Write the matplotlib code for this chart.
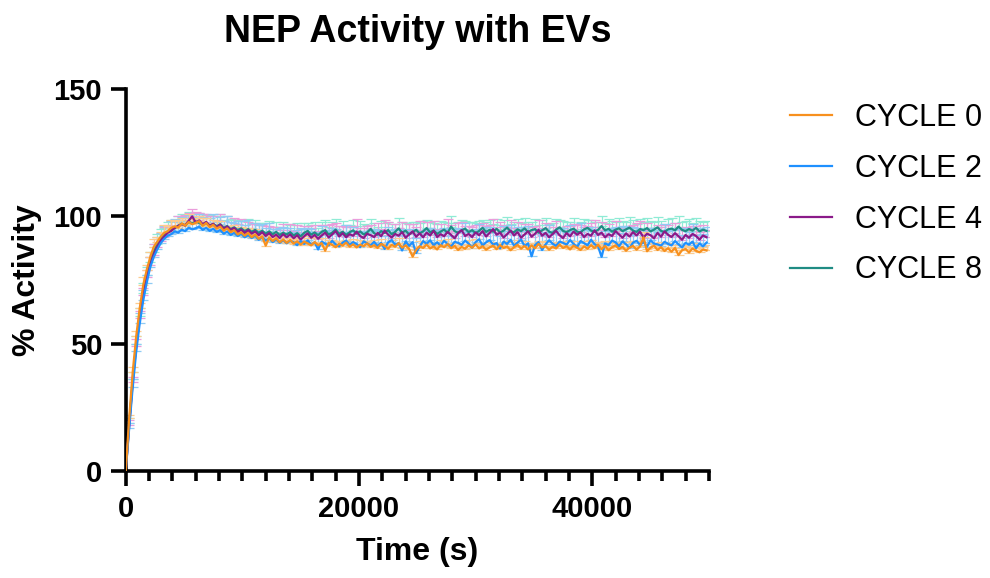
import numpy as np
import matplotlib
matplotlib.use("Agg")
from matplotlib import pyplot as plt
from matplotlib.ticker import MultipleLocator

plt.rcParams['font.family'] = ['Liberation Sans', 'DejaVu Sans']

# readings every 300 s, % activity (mean) and SD per cycle
step = 300

cycle0 = [0, 21, 39, 53, 64, 73, 79, 84, 88, 90,
          92, 93.5, 94.2, 95.5, 96.1, 95.6, 97.2, 96.4, 97.8, 96.9,
          97.5, 98.1, 96.3, 97.4, 95.8, 96.7, 95.2, 96.0, 94.4, 95.3,
          93.8, 94.6, 92.9, 93.7, 92.4, 93.5, 91.8, 92.9, 91.2, 92.1,
          88.5, 91.7, 90.3, 91.4, 89.8, 90.9, 89.6, 90.7, 89.3, 90.2,
          88.9, 90.1, 89.4, 88.6, 89.9, 88.7, 89.5, 86.5, 89.6, 88.8,
          87.9, 89.3, 88.5, 89.7, 88.1, 89.0, 87.8, 88.9, 88.3, 89.4,
          88.0, 88.7, 87.6, 89.2, 88.4, 87.3, 88.8, 88.1, 89.5, 87.7,
          88.6, 87.2, 84.2, 86.9, 88.3, 87.6, 88.9, 87.4, 88.2, 87.0,
          88.7, 87.9, 89.1, 87.5, 88.4, 86.8, 88.0, 87.3, 88.6, 87.7,
          89.0, 87.4, 88.3, 86.9, 87.8, 88.5, 87.1, 88.7, 87.6, 88.2,
          86.7, 87.9, 88.8, 87.3, 88.4, 87.0, 88.6, 87.5, 89.2, 87.8,
          88.3, 86.9, 88.1, 87.4, 88.9, 87.6, 88.3, 87.0, 88.5, 87.7,
          86.8, 88.2, 87.3, 88.7, 87.5, 88.9, 87.1, 88.4, 86.7, 87.9,
          88.6, 87.2, 88.0, 86.5, 87.8, 88.4, 86.9, 88.2, 91.8, 86.3,
          87.7, 88.5, 86.8, 87.9, 86.4, 87.5, 86.1, 87.6, 84.8, 86.7,
          87.2, 85.8, 87.4, 86.5, 85.9, 87.0, 86.6]

cycle2 = [0, 17, 33, 47, 58, 67, 74, 80, 84, 87,
          89.5, 91.2, 92.4, 93.0, 94.1, 93.6, 94.8, 94.2, 95.6, 94.9,
          95.3, 96.0, 94.7, 95.5, 94.3, 95.1, 93.9, 94.6, 93.2, 94.0,
          92.7, 93.5, 92.3, 93.1, 91.8, 92.6, 91.5, 92.4, 90.8, 91.9,
          90.5, 91.3, 89.9, 90.9, 89.6, 90.7, 89.4, 90.5, 89.8, 88.7,
          90.3, 89.2, 90.6, 88.9, 89.8, 87.0, 90.1, 89.3, 88.6, 90.4,
          89.0, 88.2, 89.7, 90.5, 88.8, 89.9, 89.1, 87.9, 90.2, 89.4,
          88.6, 90.0, 88.3, 89.6, 87.2, 89.8, 90.7, 88.9, 89.5, 86.6,
          90.2, 88.4, 89.9, 85.6, 88.1, 90.3, 89.2, 90.6, 88.7, 89.8,
          88.5, 90.4, 89.1, 88.2, 90.0, 89.6, 88.8, 90.5, 89.3, 87.7,
          89.9, 91.0, 88.6, 89.8, 90.7, 88.9, 89.5, 87.4, 90.1, 89.2,
          90.8, 88.5, 89.7, 90.9, 88.3, 89.4, 84.3, 88.7, 89.9, 86.8,
          89.0, 90.6, 89.3, 88.4, 90.1, 89.6, 88.9, 90.7, 89.2, 87.9,
          90.3, 89.5, 88.6, 90.8, 89.1, 88.2, 84.1, 89.4, 88.7, 90.5,
          89.8, 88.3, 90.2, 89.0, 87.6, 89.7, 90.4, 88.8, 89.9, 88.1,
          90.6, 89.3, 89.0, 88.5, 90.0, 89.2, 88.6, 90.3, 89.0, 87.8,
          89.6, 88.9, 90.1, 87.5, 89.4, 88.2, 89.7]

cycle4 = [0, 18, 35, 49, 60, 69, 76, 81, 85, 88,
          90.5, 92.0, 93.6, 94.3, 95.5, 96.2, 97.0, 96.4, 98.3, 100.0,
          97.6, 98.4, 96.9, 97.8, 96.2, 97.1, 95.6, 96.8, 95.1, 96.0,
          94.7, 95.4, 93.9, 94.8, 93.5, 94.6, 93.2, 94.1, 92.6, 93.8,
          92.3, 93.4, 91.9, 92.8, 91.5, 93.0, 91.8, 92.9, 91.4, 92.6,
          90.9, 92.2, 93.3, 91.6, 92.7, 91.2, 92.5, 93.6, 91.7, 92.9,
          94.2, 92.1, 93.4, 91.8, 93.0, 92.4, 94.0, 92.3, 91.5, 93.2,
          92.6, 91.9, 93.5, 92.2, 94.4, 92.8, 91.7, 93.1, 92.4, 93.8,
          91.6, 92.9, 94.1, 92.0, 93.3, 91.8, 93.6, 92.5, 94.3, 91.9,
          93.0, 92.2, 93.9, 92.7, 91.4, 93.4, 94.6, 92.3, 93.1, 91.9,
          93.7, 92.6, 94.2, 92.1, 93.5, 95.0, 92.8, 93.6, 91.7, 93.0,
          94.4, 92.5, 93.8, 91.6, 92.9, 94.1, 92.0, 93.2, 94.7, 92.4,
          93.5, 91.8, 93.0, 94.3, 92.6, 91.5, 93.4, 92.2, 94.0, 92.8,
          93.7, 91.9, 93.1, 92.4, 94.5, 92.7, 93.6, 91.8, 93.0, 92.3,
          94.2, 92.9, 91.6, 93.3, 92.1, 93.8, 92.5, 94.0, 91.7, 93.2,
          92.6, 91.4, 93.5, 92.0, 94.1, 92.8, 91.9, 93.4, 92.2, 90.8,
          92.7, 91.6, 93.1, 92.3, 90.9, 92.5, 91.8]

cycle8 = [0, 19, 36, 50, 61, 70, 77, 82, 86, 89,
          91.0, 92.5, 93.8, 94.6, 95.4, 96.3, 97.1, 96.5, 97.9, 97.2,
          98.0, 97.4, 96.8, 97.6, 96.4, 97.0, 96.1, 96.9, 95.5, 96.2,
          95.0, 95.7, 94.6, 95.3, 94.2, 95.0, 93.9, 94.7, 93.5, 94.4,
          93.2, 94.1, 93.0, 93.9, 92.7, 93.6, 92.9, 93.8, 92.5, 93.4,
          92.2, 93.5, 94.3, 92.8, 93.7, 92.6, 93.9, 94.6, 92.9, 93.6,
          94.8, 93.1, 94.0, 92.7, 93.8, 94.5, 93.2, 94.1, 92.9, 93.7,
          95.1, 93.4, 92.8, 94.2, 93.5, 94.6, 93.0, 93.9, 95.3, 93.6,
          94.4, 92.9, 93.8, 94.7, 93.3, 94.1, 95.4, 93.7, 94.5, 93.1,
          94.0, 94.8, 93.5, 96.0, 94.2, 93.6, 94.5, 95.2, 93.8, 94.6,
          93.4, 94.3, 95.5, 93.9, 94.7, 94.0, 95.1, 93.7, 94.4, 95.6,
          94.1, 93.8, 94.9, 94.2, 95.3, 93.9, 94.6, 95.0, 93.6, 94.5,
          95.4, 94.0, 93.5, 94.8, 95.7, 94.3, 93.8, 94.6, 95.2, 94.0,
          93.7, 94.9, 95.5, 94.4, 93.9, 94.7, 96.2, 94.5, 95.1, 94.0,
          94.8, 95.3, 94.2, 94.9, 95.6, 94.4, 93.9, 95.0, 94.6, 95.4,
          94.1, 94.8, 95.7, 94.3, 93.8, 94.9, 95.2, 94.5, 96.0, 94.7,
          94.2, 95.0, 94.4, 95.5, 94.1, 94.8, 94.3]

sd0 = [0, 1, 2, 2, 2, 3, 2, 2, 3, 2,
       2, 3, 2, 3, 2, 3, 2, 2, 3, 2,
       2, 2, 3, 2, 1, 2, 3, 2, 2, 1,
       2, 2, 1, 2, 3, 2, 1, 2, 2, 1,
       2, 1, 2, 2, 1, 2, 2, 1, 2, 2,
       1, 2, 2, 1, 2, 1, 2, 2, 1, 2,
       2, 1, 2, 1, 2, 2, 1, 2, 2, 1,
       2, 2, 1, 2, 1, 2, 2, 1, 2, 2,
       1, 2, 2, 1, 2, 2, 1, 2, 1, 2,
       2, 1, 2, 2, 1, 2, 1, 2, 2, 1,
       2, 2, 1, 2, 2, 1, 2, 1, 2, 2,
       1, 2, 2, 1, 2, 2, 1, 2, 1, 2,
       2, 1, 2, 2, 1, 2, 2, 1, 2, 1,
       2, 2, 1, 2, 2, 1, 2, 2, 1, 2,
       1, 2, 2, 1, 2, 2, 1, 2, 2, 1,
       2, 1, 2, 2, 1, 2, 2, 1, 2, 2,
       1, 2, 2, 1, 2, 1, 2]

sd2 = [0, 2, 3, 3, 4, 4, 3, 4, 4, 5,
       4, 5, 4, 5, 5, 4, 5, 4, 5, 5,
       4, 5, 5, 4, 5, 6, 4, 5, 5, 6,
       5, 4, 6, 5, 5, 6, 4, 5, 6, 5,
       5, 6, 5, 4, 6, 5, 6, 5, 4, 6,
       5, 6, 5, 6, 4, 5, 6, 5, 6, 5,
       6, 5, 4, 6, 5, 6, 5, 6, 4, 5,
       6, 5, 6, 5, 5, 6, 4, 6, 5, 6,
       5, 6, 5, 6, 5, 4, 6, 5, 6, 5,
       6, 5, 6, 4, 5, 6, 5, 7, 5, 6,
       5, 6, 5, 6, 5, 6, 4, 5, 6, 5,
       6, 5, 6, 5, 6, 7, 5, 6, 5, 6,
       5, 6, 4, 6, 5, 6, 5, 6, 5, 6,
       7, 5, 6, 5, 6, 5, 6, 5, 6, 5,
       6, 5, 6, 7, 5, 6, 5, 6, 5, 6,
       5, 6, 5, 6, 7, 5, 6, 5, 6, 5,
       6, 5, 7, 5, 6, 5, 6]

sd4 = [0, 2, 2, 3, 3, 3, 3, 3, 4, 3,
       3, 4, 3, 4, 3, 4, 3, 4, 3, 3,
       4, 3, 4, 3, 4, 3, 3, 4, 3, 4,
       3, 4, 3, 4, 3, 3, 4, 3, 4, 3,
       4, 3, 4, 3, 3, 4, 3, 4, 3, 4,
       3, 4, 3, 4, 4, 3, 4, 3, 5, 4,
       3, 4, 3, 4, 3, 4, 5, 3, 4, 3,
       4, 3, 4, 3, 4, 5, 3, 4, 3, 4,
       3, 4, 3, 4, 5, 3, 4, 3, 4, 3,
       4, 3, 5, 4, 3, 4, 3, 4, 3, 4,
       3, 4, 3, 4, 3, 4, 3, 4, 5, 3,
       4, 3, 4, 3, 4, 3, 4, 3, 4, 3,
       4, 5, 3, 4, 3, 4, 3, 4, 3, 4,
       3, 4, 3, 5, 4, 3, 4, 3, 4, 3,
       4, 3, 4, 3, 4, 3, 5, 4, 3, 4,
       3, 4, 3, 4, 3, 4, 3, 4, 3, 4,
       3, 4, 3, 4, 3, 4, 3]

sd8 = [0, 2, 3, 3, 3, 4, 3, 4, 3, 4,
       4, 3, 4, 4, 3, 4, 4, 3, 4, 4,
       3, 4, 4, 3, 4, 3, 4, 4, 3, 4,
       4, 3, 4, 3, 4, 4, 3, 4, 4, 3,
       4, 4, 3, 4, 3, 4, 4, 3, 4, 4,
       3, 4, 3, 4, 4, 3, 4, 4, 3, 4,
       4, 3, 4, 4, 3, 4, 3, 4, 4, 3,
       4, 4, 3, 4, 4, 3, 4, 3, 4, 4,
       3, 4, 4, 3, 4, 4, 3, 4, 3, 4,
       4, 3, 4, 4, 3, 4, 4, 3, 4, 3,
       4, 4, 3, 4, 4, 3, 4, 3, 4, 4,
       3, 4, 4, 3, 4, 4, 3, 4, 3, 4,
       4, 3, 4, 4, 3, 4, 4, 3, 4, 3,
       4, 4, 3, 4, 4, 3, 4, 3, 4, 4,
       3, 4, 4, 3, 4, 4, 3, 4, 3, 4,
       4, 3, 4, 4, 3, 4, 4, 3, 4, 3,
       4, 4, 3, 4, 4, 3, 4]

labels = ['CYCLE 0', 'CYCLE 2', 'CYCLE 4', 'CYCLE 8']
series = [cycle0, cycle2, cycle4, cycle8]
sds = [sd0, sd2, sd4, sd8]
colors = ['#F7901E', '#1E90FF', '#8B1A89', '#1F8C84']
err_colors = ['#FCCB8F', '#8FCBF4', '#EA9DDB', '#8FEBD5']

fig = plt.figure(figsize=(9.9, 5.78), dpi=100)
ax = fig.add_axes([0.127, 0.185, 0.589, 0.661])

# error bars first (upper side only), lines on top
draw_order = [3, 2, 1, 0]
for k in draw_order:
    y = np.array(series[k], dtype=float)
    t = np.arange(len(y)) * step
    up = np.array(sds[k], dtype=float)
    ax.errorbar(t, y, yerr=[np.zeros_like(up), up], fmt='none', ecolor=err_colors[k],
                elinewidth=0.9, capsize=3.5, capthick=0.9, zorder=1)
handles = {}
for k in draw_order:
    y = np.array(series[k], dtype=float)
    t = np.arange(len(y)) * step
    ln, = ax.plot(t, y, color=colors[k], lw=1.6, zorder=2 + (3 - k))
    handles[k] = ln

ax.set_xlim(0, 50000)
ax.set_ylim(0, 150)
ax.xaxis.set_major_locator(MultipleLocator(20000))
ax.xaxis.set_minor_locator(MultipleLocator(2000))
ax.yaxis.set_major_locator(MultipleLocator(50))

for s in ['top', 'right']:
    ax.spines[s].set_visible(False)
for s in ['left', 'bottom']:
    ax.spines[s].set_linewidth(2.6)
ax.tick_params(which='major', length=11, width=2.6, labelsize=21, pad=6)
ax.tick_params(which='minor', length=7, width=2.6)
for lab in ax.get_xticklabels() + ax.get_yticklabels():
    lab.set_fontweight('bold')

ax.set_xlabel('Time (s)', fontsize=23, fontweight='bold', labelpad=10)
ax.set_ylabel('% Activity', fontsize=23, fontweight='bold', labelpad=8)
ax.set_title('NEP Activity with EVs', fontsize=27, fontweight='bold', pad=34)

leg = ax.legend([handles[k] for k in range(4)], labels, loc='upper left',
                bbox_to_anchor=(1.118, 0.995), borderaxespad=0, frameon=False,
                fontsize=22, handlelength=1.37, handletextpad=0.75,
                labelspacing=0.68)

fig.savefig('out.png', dpi=100)
